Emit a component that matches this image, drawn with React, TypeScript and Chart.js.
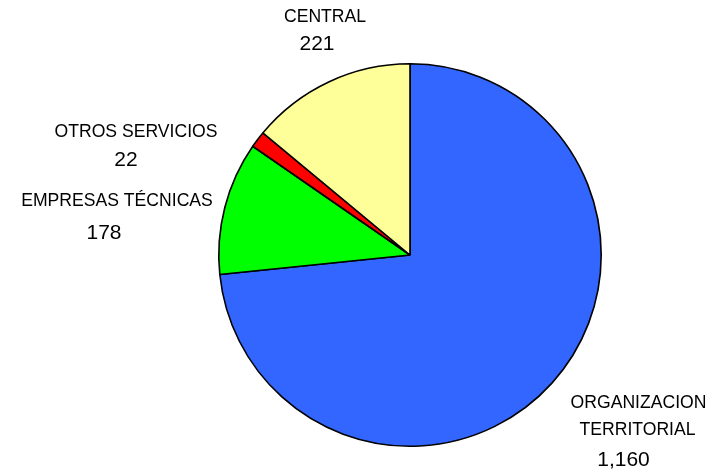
import React, { useEffect, useRef } from "react";
import { Chart, registerables } from "chart.js";

Chart.register(...registerables);

const categories = ["ORGANIZACION TERRITORIAL", "EMPRESAS TÉCNICAS", "OTROS SERVICIOS", "CENTRAL"];
const values = [1160, 178, 22, 221];
const colors = ["#3366FF", "#00FF00", "#FF0000", "#FFFF99"];
// label text lines (name split into lines)
const labelLines = [["ORGANIZACION", "TERRITORIAL"], ["EMPRESAS TÉCNICAS"], ["OTROS SERVICIOS"], ["CENTRAL"]];
// layout: offsets (px) of each text line centre from pie centre; last entry is the value
const labelLayout = [
  [[228.5, 148.5], [227.5, 175.5], [213.5, 205.5]],
  [[-293, -53.5], [-306, -22]],
  [[-274, -123], [-284, -95]],
  [[-85, -237.5], [-93, -211]],
];

const labelPlugin = {
  id: "pieLabels",
  afterDatasetsDraw(chart: any) {
    const ctx = chart.ctx;
    const meta = chart.getDatasetMeta(0);
    ctx.save();
    ctx.fillStyle = "#000";
    ctx.textAlign = "center";
    ctx.textBaseline = "middle";
    meta.data.forEach((arc: any, i: number) => {
      const cx = arc.x;
      const cy = arc.y;
      const lines = labelLines[i];
      const pos = labelLayout[i];
      lines.forEach((t, j) => {
        ctx.font = '17.6px "Liberation Sans", Arial, sans-serif';
        ctx.fillText(t, cx + pos[j][0], cy + pos[j][1]);
      });
      const vp = pos[lines.length];
      ctx.font = '21px "Liberation Sans", Arial, sans-serif';
      ctx.fillText(values[i].toLocaleString("en-US"), cx + vp[0], cy + vp[1]);
    });
    ctx.restore();
  },
};

export default function App() {
  const ref = useRef<HTMLCanvasElement>(null);
  useEffect(() => {
    if (!ref.current) return;
    const chart = new Chart(ref.current, {
      type: "pie",
      data: {
        labels: categories,
        datasets: [
          {
            data: values,
            backgroundColor: colors,
            borderColor: "#000",
            borderWidth: 1.6,
          },
        ],
      },
      options: {
        responsive: false,
        animation: false,
        layout: { padding: { left: 218, right: 118, top: 63, bottom: 26 } },
        plugins: { legend: { display: false }, tooltip: { enabled: false } },
      },
      plugins: [labelPlugin],
    });
    return () => chart.destroy();
  }, []);
  return (
    <div style={{ position: "fixed", left: 0, top: 0, width: 720, height: 473, background: "#fff" }}>
      <canvas ref={ref} width={720} height={473} style={{ width: 720, height: 473 }} />
    </div>
  );
}
